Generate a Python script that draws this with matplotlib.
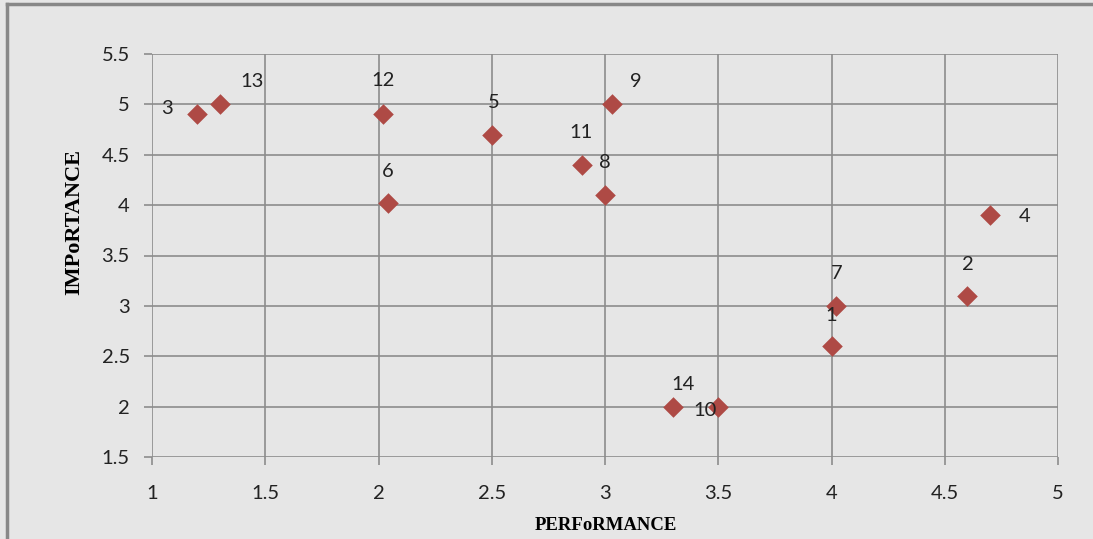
import matplotlib
matplotlib.use("Agg")
import matplotlib.pyplot as plt
from matplotlib.lines import Line2D

labels = ["3", "13", "12", "6", "5", "11", "8", "9", "14", "10", "1", "7", "2", "4"]
performance = [1.20, 1.30, 2.02, 2.04, 2.50, 2.90, 3.00, 3.03, 3.30, 3.50, 4.00, 4.02, 4.60, 4.70]
importance = [4.90, 5.00, 4.90, 4.02, 4.70, 4.40, 4.10, 5.00, 2.00, 2.00, 2.60, 3.00, 3.10, 3.90]
# label offsets in pixels (dx right, dy up)
label_offsets = [(-30, 6), (32, 23), (0, 34), (0, 32), (2, 32), (-1, 32), (0, 33),
                 (24, 23), (10, 22), (-13, -4), (0, 31), (1, 32), (0, 31), (35, -1)]
x_ticks = [1, 1.5, 2, 2.5, 3, 3.5, 4, 4.5, 5]
y_ticks = [1.5, 2, 2.5, 3, 3.5, 4, 4.5, 5, 5.5]

W, H = 1093, 539
bg = "#E6E6E6"
fig = plt.figure(figsize=(W / 100, H / 100), dpi=100, facecolor=bg)
ax = fig.add_axes([152 / W, (H - 457) / H, (1058 - 152) / W, (457 - 54) / H])
ax.set_facecolor(bg)

ax.scatter(performance, importance, marker="D", s=110, color="#AE4A45", zorder=3, linewidths=0)
for lab, x, y, (dx, dy) in zip(labels, performance, importance, label_offsets):
    ax.annotate(lab, (x, y), xytext=(dx * 0.72, dy * 0.72), textcoords="offset points",
                ha="center", va="center", fontsize=14.5, family="Lato", color="#222222", zorder=4)

ax.set_xlim(1, 5)
ax.set_ylim(1.5, 5.5)
ax.set_xticks(x_ticks)
ax.set_yticks(y_ticks)
ax.set_xticklabels([f"{t:g}" for t in x_ticks], family="Lato", fontsize=14.5, color="#222222")
ax.set_yticklabels([f"{t:g}" for t in y_ticks], family="Lato", fontsize=14.5, color="#222222")
ax.grid(True, color="#8C8C8C", linewidth=1.2, zorder=0)
ax.set_axisbelow(True)
for s in ax.spines.values():
    s.set_visible(False)
ax.tick_params(axis="both", length=6, color="#8C8C8C", width=1.2, pad=10)
ax.tick_params(axis="x", pad=14)

ax.set_xlabel("PERFoRMANCE", family="Liberation Serif", fontweight="bold", fontsize=13.5)
ax.xaxis.set_label_coords((606 - 152) / (1058 - 152), -(526 - 457) / (457 - 54))
ax.xaxis.label.set_va("center")
ax.set_ylabel("IMPoRTANCE", family="Liberation Serif", fontweight="bold", fontsize=16)
ax.yaxis.set_label_coords(-(152 - 74) / (1058 - 152), (457 - 222) / (457 - 54))
ax.yaxis.label.set_va("center")

# outer chart border (top and left visible)
fig.add_artist(Line2D([7 / W, 7 / W], [0, 1 - 4 / H], transform=fig.transFigure, color="#888888", linewidth=2.5))
fig.add_artist(Line2D([7 / W, 1], [1 - 4 / H, 1 - 4 / H], transform=fig.transFigure, color="#888888", linewidth=2.5))

fig.savefig("out.png", dpi=100, facecolor=bg)
